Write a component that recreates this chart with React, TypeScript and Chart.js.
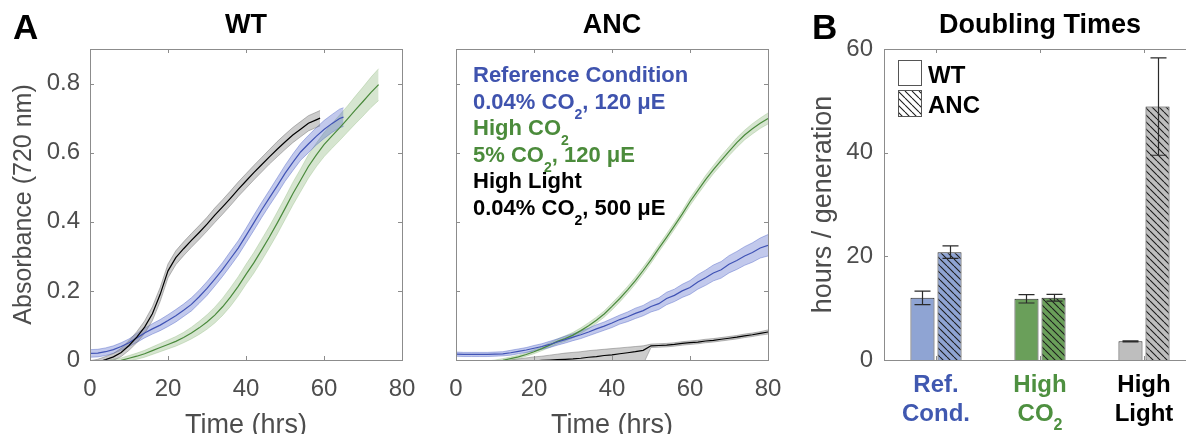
import React, { useEffect, useRef } from 'react';
import { Chart, registerables } from 'chart.js';

Chart.register(...registerables);

const FONT = '"Liberation Sans", Arial, Helvetica, sans-serif';
Chart.defaults.font.family = FONT;

const AXIS_TXT = '#4d4d4d';
const BOX_GRAY = '#8c8c8c';
const BLUE_LINE = '#4053b5';
const GREEN_LINE = '#4a8a3c';
const BLUE_TXT = '#3f53ae';
const GREEN_TXT = '#4b8b3b';

// ---------- Panel A: WT growth curves ----------
const WT_HL_T = [0, 2, 4, 6, 8, 10, 12, 14, 16, 18, 20, 22, 24, 26, 28, 30, 32, 34, 36, 38, 40, 42, 44, 46, 48, 50, 52, 54, 56, 58, 59];
const WT_HL_Y = [-0.01, -0.006, 0.001, 0.009, 0.022, 0.042, 0.066, 0.095, 0.134, 0.19, 0.258, 0.296, 0.322, 0.346, 0.369, 0.393, 0.419, 0.443, 0.468, 0.494, 0.518, 0.542, 0.565, 0.588, 0.61, 0.631, 0.651, 0.668, 0.685, 0.695, 0.7];
const WT_HL_SD = [0.008, 0.008, 0.009, 0.01, 0.012, 0.014, 0.016, 0.018, 0.02, 0.02, 0.02, 0.02, 0.02, 0.02, 0.02, 0.02, 0.021, 0.021, 0.021, 0.021, 0.021, 0.021, 0.021, 0.021, 0.022, 0.022, 0.022, 0.022, 0.022, 0.022, 0.022];

const WT_REF_T = [0, 2, 4, 6, 8, 10, 12, 14, 16, 18, 20, 22, 24, 26, 28, 30, 32, 34, 36, 38, 40, 42, 44, 46, 48, 50, 52, 54, 56, 58, 60, 62, 64, 65];
const WT_REF_Y = [0.019, 0.02, 0.024, 0.03, 0.039, 0.05, 0.064, 0.078, 0.09, 0.101, 0.114, 0.128, 0.144, 0.161, 0.183, 0.207, 0.234, 0.262, 0.293, 0.324, 0.36, 0.397, 0.434, 0.469, 0.504, 0.54, 0.572, 0.602, 0.625, 0.647, 0.667, 0.684, 0.699, 0.703];
const WT_REF_SD = [0.011, 0.011, 0.011, 0.011, 0.011, 0.011, 0.013, 0.014, 0.015, 0.016, 0.017, 0.018, 0.018, 0.019, 0.019, 0.02, 0.02, 0.02, 0.021, 0.021, 0.021, 0.022, 0.022, 0.022, 0.023, 0.023, 0.024, 0.024, 0.025, 0.025, 0.026, 0.026, 0.027, 0.027];

const WT_CO2_T = [0, 2, 4, 6, 8, 10, 12, 14, 16, 18, 20, 22, 24, 26, 28, 30, 32, 34, 36, 38, 40, 42, 44, 46, 48, 50, 52, 54, 56, 58, 60, 62, 64, 66, 68, 70, 72, 74];
const WT_CO2_Y = [-0.015, -0.012, -0.008, -0.004, -0.001, 0.005, 0.011, 0.018, 0.027, 0.036, 0.045, 0.054, 0.065, 0.078, 0.093, 0.11, 0.13, 0.154, 0.182, 0.213, 0.248, 0.281, 0.318, 0.356, 0.396, 0.438, 0.481, 0.52, 0.56, 0.593, 0.623, 0.648, 0.672, 0.697, 0.723, 0.748, 0.774, 0.797];
const WT_CO2_SD = [0.006, 0.006, 0.006, 0.007, 0.007, 0.008, 0.009, 0.01, 0.011, 0.012, 0.013, 0.014, 0.015, 0.017, 0.019, 0.021, 0.023, 0.025, 0.027, 0.028, 0.029, 0.03, 0.031, 0.031, 0.032, 0.032, 0.033, 0.033, 0.034, 0.034, 0.035, 0.036, 0.037, 0.038, 0.04, 0.042, 0.044, 0.046];

// ---------- Panel A: ANC growth curves ----------
const ANC_T = [0, 2, 4, 6, 8, 10, 12, 14, 16, 18, 20, 22, 24, 26, 28, 30, 32, 34, 36, 38, 40, 42, 44, 46, 48, 50, 52, 54, 56, 58, 60, 62, 64, 66, 68, 70, 72, 74, 76, 78, 80];
const ANC_REF_Y = [0.017, 0.016, 0.016, 0.016, 0.016, 0.017, 0.018, 0.021, 0.025, 0.029, 0.034, 0.039, 0.045, 0.052, 0.059, 0.066, 0.073, 0.081, 0.09, 0.098, 0.107, 0.117, 0.125, 0.135, 0.143, 0.155, 0.163, 0.178, 0.187, 0.2, 0.21, 0.226, 0.238, 0.252, 0.261, 0.277, 0.288, 0.301, 0.311, 0.324, 0.332];
const ANC_REF_SD = [0.006, 0.006, 0.006, 0.006, 0.006, 0.006, 0.006, 0.007, 0.007, 0.007, 0.008, 0.008, 0.009, 0.009, 0.01, 0.01, 0.011, 0.011, 0.012, 0.012, 0.013, 0.013, 0.014, 0.015, 0.015, 0.016, 0.017, 0.018, 0.018, 0.019, 0.02, 0.021, 0.022, 0.023, 0.024, 0.025, 0.026, 0.027, 0.028, 0.029, 0.031];
const ANC_CO2_Y = [-0.014, -0.013, -0.012, -0.01, -0.008, -0.005, -0.001, 0.004, 0.009, 0.016, 0.024, 0.033, 0.043, 0.054, 0.062, 0.072, 0.085, 0.099, 0.115, 0.133, 0.155, 0.178, 0.203, 0.23, 0.259, 0.29, 0.323, 0.355, 0.388, 0.422, 0.458, 0.49, 0.522, 0.551, 0.578, 0.604, 0.629, 0.651, 0.669, 0.685, 0.699];
const ANC_CO2_SD = [0.005, 0.005, 0.005, 0.005, 0.005, 0.005, 0.005, 0.005, 0.005, 0.005, 0.006, 0.006, 0.007, 0.007, 0.008, 0.008, 0.008, 0.009, 0.009, 0.009, 0.01, 0.01, 0.01, 0.01, 0.01, 0.01, 0.01, 0.01, 0.01, 0.01, 0.011, 0.011, 0.012, 0.012, 0.013, 0.013, 0.014, 0.014, 0.015, 0.015, 0.016];
const ANC_HL_Y = [-0.012, -0.012, -0.011, -0.011, -0.01, -0.009, -0.008, -0.007, -0.006, -0.005, -0.003, -0.001, 0.0, 0.001, 0.002, 0.003, 0.005, 0.008, 0.01, 0.013, 0.015, 0.018, 0.021, 0.024, 0.028, 0.041, 0.042, 0.043, 0.045, 0.048, 0.05, 0.052, 0.055, 0.057, 0.06, 0.063, 0.066, 0.07, 0.073, 0.077, 0.081];
const ANC_HL_HI = [-0.01, -0.01, -0.009, -0.009, -0.008, -0.007, -0.006, 0.0, 0.003, 0.006, 0.009, 0.011, 0.014, 0.017, 0.02, 0.022, 0.024, 0.027, 0.029, 0.031, 0.033, 0.035, 0.037, 0.039, 0.041, 0.046, 0.047, 0.048, 0.05, 0.053, 0.055, 0.057, 0.06, 0.062, 0.065, 0.068, 0.071, 0.075, 0.078, 0.082, 0.087];
const ANC_HL_LO = [-0.014, -0.014, -0.013, -0.013, -0.012, -0.011, -0.01, -0.012, -0.012, -0.012, -0.012, -0.012, -0.012, -0.012, -0.012, -0.012, -0.012, -0.012, -0.012, -0.012, -0.012, -0.012, -0.012, -0.012, -0.012, 0.036, 0.037, 0.038, 0.04, 0.043, 0.045, 0.047, 0.05, 0.052, 0.055, 0.058, 0.061, 0.065, 0.068, 0.072, 0.075];

const A_X_TICKS = [0, 20, 40, 60, 80];
const A_Y_TICKS = [0, 0.2, 0.4, 0.6, 0.8];

// ---------- Panel B: doubling times ----------
const B_CATEGORIES = ['Ref. Cond.', 'High CO2', 'High Light'];
const WT_DOUBLING = [12.0, 11.8, 3.6];
const WT_DOUBLING_ERR = [1.3, 0.8, 0.1];
const ANC_DOUBLING = [20.8, 12.0, 48.9];
const ANC_DOUBLING_ERR = [1.2, 0.65, 9.4];
const B_BAR_COLORS = ['#8fa4d3', '#6a9f5a', '#bebebe'];
const B_Y_TICKS = [0, 20, 40, 60];

const ANC_LEGEND = [
  { color: BLUE_TXT, parts: ['Reference Condition'] },
  { color: BLUE_TXT, parts: ['0.04% CO', { sub: '2' }, ', 120 \u03bcE'] },
  { color: GREEN_TXT, parts: ['High CO', { sub: '2' }] },
  { color: GREEN_TXT, parts: ['5% CO', { sub: '2' }, ', 120 \u03bcE'] },
  { color: '#000000', parts: ['High Light'] },
  { color: '#000000', parts: ['0.04% CO', { sub: '2' }, ', 500 \u03bcE'] },
];

const B_CATEGORY_TEXT = [
  { color: '#4058b0', lines: [['Ref.'], ['Cond.']] },
  { color: '#4e9040', lines: [['High'], ['CO', { sub: '2' }]] },
  { color: '#000000', lines: [['High'], ['Light']] },
];

// ---------- helpers ----------
function richWidth(ctx: any, parts: any[], size: number, subSize: number) {
  let w = 0;
  for (const p of parts) {
    if (typeof p === 'string') { ctx.font = `bold ${size}px ${FONT}`; w += ctx.measureText(p).width; }
    else { ctx.font = `bold ${subSize}px ${FONT}`; w += ctx.measureText(p.sub).width; }
  }
  return w;
}

function drawRich(ctx: any, parts: any[], x: number, y: number, size: number, subSize: number, subDy: number) {
  let cx = x;
  for (const p of parts) {
    if (typeof p === 'string') {
      ctx.font = `bold ${size}px ${FONT}`;
      ctx.fillText(p, cx, y);
      cx += ctx.measureText(p).width;
    } else {
      ctx.font = `bold ${subSize}px ${FONT}`;
      ctx.fillText(p.sub, cx, y + subDy);
      cx += ctx.measureText(p.sub).width;
    }
  }
}

function makeHatch(ctx: any, color: string) {
  const s = 7;
  const c = document.createElement('canvas');
  c.width = s; c.height = s;
  const g = c.getContext('2d') as CanvasRenderingContext2D;
  g.fillStyle = color; g.fillRect(0, 0, s, s);
  g.strokeStyle = '#1e1e1e'; g.lineWidth = 1.1;
  g.beginPath();
  for (const k of [-s, 0, s]) { g.moveTo(k, 0); g.lineTo(k + s, s); }
  g.stroke();
  return ctx.createPattern(c, 'repeat');
}

// ---------- plugins ----------
const framePlugin = {
  id: 'frame',
  afterDatasetsDraw(chart: any) {
    const { ctx, chartArea: a, scales } = chart;
    const len = 4;
    ctx.save();
    ctx.strokeStyle = BOX_GRAY;
    ctx.lineWidth = 1;
    ctx.beginPath();
    scales.x.ticks.forEach((_t: any, i: number) => {
      const px = Math.round(scales.x.getPixelForTick(i)) + 0.5;
      ctx.moveTo(px, a.bottom); ctx.lineTo(px, a.bottom - len);
      ctx.moveTo(px, a.top); ctx.lineTo(px, a.top + len);
    });
    scales.y.ticks.forEach((_t: any, i: number) => {
      const py = Math.round(scales.y.getPixelForTick(i)) + 0.5;
      ctx.moveTo(a.left, py); ctx.lineTo(a.left + len, py);
      ctx.moveTo(a.right, py); ctx.lineTo(a.right - len, py);
    });
    ctx.stroke();
    ctx.strokeRect(Math.round(a.left) + 0.5, Math.round(a.top) + 0.5, Math.round(a.width), Math.round(a.height));
    ctx.restore();
  },
};

const panelTextPlugin = {
  id: 'panelText',
  afterDraw(chart: any, _args: any, opts: any) {
    const { ctx, chartArea: a } = chart;
    ctx.save();
    ctx.fillStyle = '#000';
    ctx.textBaseline = 'alphabetic';
    if (opts.title) {
      ctx.font = `bold 27px ${FONT}`;
      ctx.textAlign = 'center';
      ctx.fillText(opts.title, (a.left + a.right) / 2, a.top - 16);
    }
    if (opts.letter) {
      ctx.font = `bold 35px ${FONT}`;
      ctx.textAlign = 'left';
      ctx.fillText(opts.letter, opts.letterX, a.top - 10);
    }
    ctx.restore();
  },
};

const ancLegendPlugin = {
  id: 'ancLegend',
  afterDraw(chart: any) {
    const { ctx, chartArea: a } = chart;
    ctx.save();
    ctx.textAlign = 'left';
    ctx.textBaseline = 'alphabetic';
    ANC_LEGEND.forEach((row, i) => {
      ctx.fillStyle = row.color;
      drawRich(ctx, row.parts, a.left + 17, a.top + 33 + i * 26.6, 22, 14, 10);
    });
    ctx.restore();
  },
};

const errorBarPlugin = {
  id: 'errorBars',
  afterDatasetsDraw(chart: any) {
    const { ctx } = chart;
    const yS = chart.scales.y;
    ctx.save();
    ctx.strokeStyle = '#2a2a2a';
    ctx.lineWidth = 1.2;
    chart.data.datasets.forEach((ds: any, di: number) => {
      const meta = chart.getDatasetMeta(di);
      meta.data.forEach((bar: any, i: number) => {
        const v = ds.data[i];
        const e = ds.errors[i];
        const x = Math.round(bar.x) + 0.5;
        const yt = yS.getPixelForValue(v + e);
        const yb = yS.getPixelForValue(v - e);
        ctx.beginPath();
        ctx.moveTo(x, yt); ctx.lineTo(x, yb);
        ctx.moveTo(x - 8, yt); ctx.lineTo(x + 8, yt);
        ctx.moveTo(x - 8, yb); ctx.lineTo(x + 8, yb);
        ctx.stroke();
      });
    });
    ctx.restore();
  },
};

const bLegendPlugin = {
  id: 'bLegend',
  afterDraw(chart: any) {
    const { ctx, chartArea: a } = chart;
    const items = chart.data.datasets;
    ctx.save();
    const boxes = [
      { y: a.top + 11, h: 26, fill: '#ffffff' },
      { y: a.top + 41, h: 27, fill: makeHatch(ctx, '#ffffff') },
    ];
    boxes.forEach((b, i) => {
      ctx.fillStyle = b.fill;
      ctx.fillRect(a.left + 14, b.y, 24, b.h);
      ctx.strokeStyle = '#555555';
      ctx.lineWidth = 1;
      ctx.strokeRect(a.left + 14.5, b.y + 0.5, 23, b.h - 1);
      ctx.fillStyle = '#000';
      ctx.font = `bold 24px ${FONT}`;
      ctx.textAlign = 'left';
      ctx.textBaseline = 'alphabetic';
      ctx.fillText(items[i].label, a.left + 44, b.y + 23);
    });
    ctx.restore();
  },
};

const bCategoryPlugin = {
  id: 'bCategory',
  afterDraw(chart: any) {
    const { ctx, chartArea: a } = chart;
    const xS = chart.scales.x;
    ctx.save();
    ctx.textAlign = 'left';
    ctx.textBaseline = 'alphabetic';
    B_CATEGORY_TEXT.forEach((cat, i) => {
      const cx = xS.getPixelForTick(i);
      ctx.fillStyle = cat.color;
      cat.lines.forEach((parts: any[], li: number) => {
        const w = richWidth(ctx, parts, 24, 16);
        drawRich(ctx, parts, cx - w / 2, a.bottom + 32 + li * 29, 24, 16, 9);
      });
    });
    ctx.restore();
  },
};

// ---------- configs ----------
function bandSets(t: number[], y: number[], hi: number[], lo: number[], line: string, fill: string, edge: string) {
  const pts = (arr: number[]) => t.map((tt, i) => ({ x: tt, y: arr[i] }));
  return [
    { data: pts(y), borderColor: line, borderWidth: 1.2, pointRadius: 0, fill: false, order: 0 },
    { data: pts(hi), borderColor: edge, borderWidth: 0.8, pointRadius: 0, fill: '+1', backgroundColor: fill, order: 1 },
    { data: pts(lo), borderColor: edge, borderWidth: 0.8, pointRadius: 0, fill: false, order: 1 },
  ];
}

function withSd(t: number[], y: number[], sd: number[], line: string, fill: string, edge: string) {
  return bandSets(t, y, y.map((v, i) => v + sd[i]), y.map((v, i) => v - sd[i]), line, fill, edge);
}

const GRAY_BAND = 'rgba(120,120,120,0.38)';
const GRAY_EDGE = 'rgba(90,90,90,0.5)';
const BLUE_BAND = 'rgba(80,100,200,0.35)';
const BLUE_EDGE = 'rgba(80,100,200,0.55)';
const GREEN_BAND = 'rgba(120,170,100,0.3)';
const GREEN_EDGE = 'rgba(120,170,100,0.35)';

function curveConfig(datasets: any[], showY: boolean, yWidth: number, padRight: number, plugins: any[], pluginOpts: any) {
  return {
    type: 'line',
    data: { datasets: datasets.map((d) => ({ ...d, tension: 0 })) },
    options: {
      responsive: false,
      animation: false,
      events: [],
      layout: { padding: { left: 0, top: 49, right: padRight, bottom: 0 } },
      plugins: { legend: { display: false }, tooltip: { enabled: false }, ...pluginOpts },
      scales: {
        x: {
          type: 'linear', min: 0, max: 80,
          afterBuildTicks: (s: any) => { s.ticks = A_X_TICKS.map((v) => ({ value: v })); },
          afterFit: (s: any) => { s.height = 110; },
          grid: { display: false, drawTicks: false }, border: { display: false },
          ticks: { color: AXIS_TXT, font: { size: 24 }, padding: 15, maxRotation: 0, autoSkip: false, callback: (v: any) => `${v}` },
          title: { display: true, text: 'Time (hrs)', color: AXIS_TXT, font: { size: 27 }, padding: { top: 0, bottom: 28 } },
        },
        y: {
          type: 'linear', min: 0, max: 0.9,
          afterBuildTicks: (s: any) => { s.ticks = A_Y_TICKS.map((v) => ({ value: v })); },
          afterFit: (s: any) => { s.width = yWidth; },
          grid: { display: false, drawTicks: false }, border: { display: false },
          ticks: { display: showY, color: AXIS_TXT, font: { size: 24 }, padding: 10, callback: (v: any) => `${v}` },
          title: { display: showY, text: 'Absorbance (720 nm)', color: AXIS_TXT, font: { size: 25 }, padding: { top: 9, bottom: 0 } },
        },
      },
    },
    plugins,
  };
}

export default function App() {
  const wtRef = useRef<HTMLCanvasElement>(null);
  const ancRef = useRef<HTMLCanvasElement>(null);
  const bRef = useRef<HTMLCanvasElement>(null);

  useEffect(() => {
    const wtSets = [
      ...withSd(WT_HL_T, WT_HL_Y, WT_HL_SD, '#000000', GRAY_BAND, GRAY_EDGE),
      ...withSd(WT_REF_T, WT_REF_Y, WT_REF_SD, BLUE_LINE, BLUE_BAND, BLUE_EDGE),
      ...withSd(WT_CO2_T, WT_CO2_Y, WT_CO2_SD, GREEN_LINE, GREEN_BAND, GREEN_EDGE),
    ];
    const ancSets = [
      ...bandSets(ANC_T, ANC_HL_Y, ANC_HL_HI, ANC_HL_LO, '#000000', GRAY_BAND, GRAY_EDGE),
      ...withSd(ANC_T, ANC_REF_Y, ANC_REF_SD, BLUE_LINE, BLUE_BAND, BLUE_EDGE),
      ...withSd(ANC_T, ANC_CO2_Y, ANC_CO2_SD, GREEN_LINE, GREEN_BAND, GREEN_EDGE),
    ];

    // WT canvas is 450 wide (overlaps the transparent ANC canvas) so that right padding 48 gives a 312px plot
    const wt = new Chart(wtRef.current as any, curveConfig(wtSets, true, 90, 48,
      [framePlugin, panelTextPlugin], { panelText: { title: 'WT', letter: 'A', letterX: 13 } }) as any);
    const anc = new Chart(ancRef.current as any, curveConfig(ancSets, false, 36, 32,
      [framePlugin, panelTextPlugin, ancLegendPlugin], { panelText: { title: 'ANC' } }) as any);

    const bctx = (bRef.current as HTMLCanvasElement).getContext('2d');
    const hatches = B_BAR_COLORS.map((c) => makeHatch(bctx, c));
    const b = new Chart(bRef.current as any, {
      type: 'bar',
      data: {
        labels: B_CATEGORIES,
        datasets: [
          { label: 'WT', data: WT_DOUBLING, errors: WT_DOUBLING_ERR, backgroundColor: B_BAR_COLORS, borderColor: '#2b2b2b', borderWidth: 1, categoryPercentage: 0.52, barPercentage: 0.89 },
          { label: 'ANC', data: ANC_DOUBLING, errors: ANC_DOUBLING_ERR, backgroundColor: hatches, borderColor: '#2b2b2b', borderWidth: 1, categoryPercentage: 0.52, barPercentage: 0.89 },
        ],
      },
      options: {
        responsive: false,
        animation: false,
        events: [],
        layout: { padding: { left: 0, top: 49, right: 14, bottom: 0 } },
        plugins: { legend: { display: false }, tooltip: { enabled: false }, panelText: { title: 'Doubling Times', letter: 'B', letterX: 12 } },
        scales: {
          x: {
            type: 'category',
            afterFit: (s: any) => { s.height = 110; },
            grid: { display: false, drawTicks: false }, border: { display: false },
            ticks: { display: false },
          },
          y: {
            type: 'linear', min: 0, max: 60,
            afterBuildTicks: (s: any) => { s.ticks = B_Y_TICKS.map((v) => ({ value: v })); },
            afterFit: (s: any) => { s.width = 84; },
            grid: { display: false, drawTicks: false }, border: { display: false },
            ticks: { color: AXIS_TXT, font: { size: 24 }, padding: 11, callback: (v: any) => `${v}` },
            title: { display: true, text: 'hours / generation', color: AXIS_TXT, font: { size: 27 }, padding: { top: 7, bottom: 0 } },
          },
        },
      },
      plugins: [errorBarPlugin, framePlugin, panelTextPlugin, bLegendPlugin, bCategoryPlugin],
    } as any);

    return () => { wt.destroy(); anc.destroy(); b.destroy(); };
  }, []);

  return (
    <div style={{ position: 'fixed', left: 0, top: 0, width: 1186, height: 434, overflow: 'hidden', background: '#ffffff' }}>
      <canvas ref={wtRef} width={450} height={470} style={{ position: 'absolute', left: 0, top: 0 }} />
      <canvas ref={ancRef} width={380} height={470} style={{ position: 'absolute', left: 420, top: 0 }} />
      <canvas ref={bRef} width={410} height={470} style={{ position: 'absolute', left: 800, top: 0 }} />
    </div>
  );
}
